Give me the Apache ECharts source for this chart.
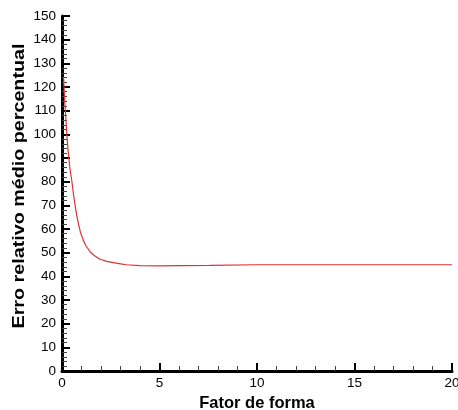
<!DOCTYPE html>
<html>
<head>
<meta charset="utf-8">
<script src="https://cdn.jsdelivr.net/npm/echarts@6/dist/echarts.min.js"></script>
<style>
  html, body { margin: 0; padding: 0; background: #fff; }
  #chart { width: 458px; height: 410px; }
</style>
</head>
<body>
<div id="chart"></div>
<script>
// Shape factor (x) and mean relative error in percent (y)
const shapeFactor = [0.08, 0.12, 0.17, 0.24, 0.31, 0.4, 0.5, 0.6, 0.67, 0.75, 0.84, 0.95, 1.09, 1.25, 1.44, 1.65, 1.95, 2.3, 2.63, 3.0, 3.3, 4.0, 5.0, 6.0, 7.6, 7.62, 10, 15, 20];
const meanRelError = [124, 117, 110, 101, 93.4, 86, 80.5, 74, 70.1, 66, 62.4, 58.5, 55.3, 52.6, 50.4, 48.8, 47.2, 46.3, 45.8, 45.3, 44.9, 44.5, 44.4, 44.5, 44.6, 44.9, 44.9, 44.9, 44.9];
const xTicks = [0, 5, 10, 15, 20];
const yTicks = [0, 10, 20, 30, 40, 50, 60, 70, 80, 90, 100, 110, 120, 130, 140, 150];
const xTitle = 'Fator de forma';
const yTitle = 'Erro relativo médio percentual';

const chart = echarts.init(document.getElementById('chart'), null, { renderer: 'canvas' });
const font = 'Liberation Sans, Arial, sans-serif';

chart.setOption({
  animation: false,
  backgroundColor: '#ffffff',
  grid: { left: 62, right: 6, top: 16, bottom: 39, containLabel: false, outerBoundsMode: 'none' },
  xAxis: {
    type: 'value',
    min: xTicks[0], max: xTicks[xTicks.length - 1], interval: 5,
    name: xTitle, nameLocation: 'middle', nameGap: 22,
    nameTextStyle: { fontFamily: font, fontWeight: 'bold', fontSize: 16.5, color: '#000' },
    axisLine: { onZero: false, lineStyle: { color: '#000', width: 3 } },
    axisTick: { inside: true, length: 8, lineStyle: { color: '#000', width: 2 } },
    minorTick: { show: true, splitNumber: 5, length: 5, lineStyle: { color: '#444', width: 1 } },
    axisLabel: { fontFamily: font, fontSize: 13.5, color: '#000', margin: 5 },
    splitLine: { show: false }
  },
  yAxis: {
    type: 'value',
    min: yTicks[0], max: yTicks[yTicks.length - 1], interval: 10,
    axisLine: { onZero: false, lineStyle: { color: '#000', width: 3 } },
    axisTick: { inside: true, length: 8, lineStyle: { color: '#000', width: 2 } },
    minorTick: { show: true, splitNumber: 5, length: 5, lineStyle: { color: '#444', width: 1 } },
    axisLabel: { fontFamily: font, fontSize: 13.5, color: '#000', margin: 6 },
    splitLine: { show: false }
  },
  // Vertical axis title, drawn as a rotated text element widened along its baseline
  graphic: [{
    type: 'text',
    x: 19, y: 186,
    rotation: Math.PI / 2,
    scaleX: 1.16,
    style: {
      text: yTitle,
      font: 'bold 17px Liberation Sans, Arial, sans-serif',
      fill: '#000',
      align: 'center', verticalAlign: 'middle',
      textAlign: 'center', textVerticalAlign: 'middle'
    }
  }],
  series: [{
    type: 'line',
    data: shapeFactor.map((x, i) => [x, meanRelError[i]]),
    showSymbol: false,
    smooth: false,
    lineStyle: { color: '#dd3333', width: 1.2 },
    z: 1
  }]
});
</script>
</body>
</html>
